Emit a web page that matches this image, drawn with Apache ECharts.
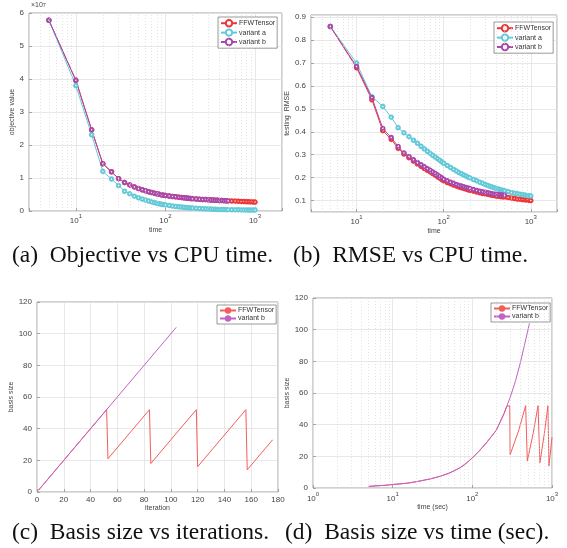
<!DOCTYPE html>
<html><head><meta charset="utf-8">
<script src="https://cdn.jsdelivr.net/npm/echarts@6/dist/echarts.min.js"></script>
<style>html,body{margin:0;padding:0;background:#fff}#c{width:567px;height:548px}</style>
</head><body><div id="c"></div>
<script>
// ---------- data ----------
// (a),(b): CPU time samples
const timeA = [5,10,15,20,25,30,35,40,45,50,55,60,65,70,75,80,85,90,95,100,
  110,120,130,140,150,160,170,180,190,200,220,240,260,280,300,320,340,360,380,400,
  425,450,475,500,550,600,650,700,750,800,850,900,950,1000];
// objective value (x 10^7)
const objFFW = [5.78,3.96,2.46,1.43,1.19,0.98,0.86,0.79,0.73,0.68,0.645,0.61,0.585,0.56,0.54,0.52,0.505,0.49,0.48,0.47,
  0.455,0.44,0.43,0.42,0.41,0.40,0.395,0.385,0.38,0.37,0.362,0.355,0.35,0.345,0.34,0.335,0.33,0.327,0.324,0.32,
  0.317,0.314,0.312,0.31,0.305,0.30,0.295,0.29,0.286,0.282,0.279,0.276,0.273,0.27];
const objVarA = [5.78,3.80,2.31,1.20,0.97,0.77,0.60,0.52,0.45,0.40,0.36,0.33,0.30,0.275,0.255,0.235,0.22,0.205,0.195,0.185,
  0.165,0.15,0.138,0.128,0.12,0.112,0.105,0.099,0.094,0.089,0.081,0.075,0.069,0.065,0.061,0.057,0.054,0.051,0.049,0.047,
  0.045,0.043,0.041,0.040,0.038,0.036,0.035,0.034,0.033,0.032,0.031,0.030,0.030,0.029];
const objVarB = [5.78,3.96,2.46,1.43,1.19,0.98,0.86,0.79,0.73,0.68,0.645,0.61,0.585,0.56,0.54,0.52,0.505,0.49,0.48,0.47,
  0.455,0.44,0.43,0.42,0.41,0.40,0.395,0.385,0.38,0.37,0.362,0.355,0.35,0.345,0.34,0.335,0.33,0.327,0.324,0.32,
  0.317,0.314,0.312,0.31];
// testing RMSE
const rmseFFW = [0.86,0.68,0.54,0.405,0.367,0.328,0.303,0.287,0.272,0.259,0.249,0.240,0.232,0.225,0.218,0.211,0.204,0.198,0.192,0.186,
  0.179,0.173,0.168,0.163,0.159,0.156,0.153,0.150,0.147,0.145,0.141,0.137,0.134,0.131,0.129,0.127,0.125,0.123,0.122,0.120,
  0.119,0.117,0.116,0.115,0.113,0.111,0.109,0.107,0.106,0.104,0.103,0.102,0.101,0.100];
const rmseVarA = [0.86,0.70,0.553,0.511,0.464,0.418,0.396,0.379,0.363,0.350,0.337,0.325,0.315,0.306,0.298,0.290,0.283,0.276,0.269,0.263,
  0.253,0.244,0.236,0.229,0.222,0.217,0.212,0.207,0.203,0.199,0.192,0.186,0.180,0.175,0.170,0.166,0.162,0.159,0.156,0.153,
  0.150,0.147,0.145,0.143,0.139,0.135,0.132,0.130,0.128,0.126,0.124,0.122,0.121,0.120];
const rmseVarB = [0.86,0.685,0.55,0.415,0.375,0.336,0.308,0.292,0.278,0.266,0.256,0.247,0.239,0.232,0.225,0.218,0.211,0.205,0.199,0.193,
  0.186,0.180,0.175,0.170,0.166,0.163,0.160,0.157,0.155,0.153,0.148,0.144,0.141,0.138,0.136,0.134,0.132,0.130,0.128,0.127,
  0.126,0.125,0.124,0.123];
// (c) basis size vs iteration
const iterFFW  = [1,52,53,84,85,119,120,156,157,176];
const basisFFW = [1,52,21,52,18,52,16,52,14,33];
const iterVarB  = [1,104];
const basisVarB = [1,104];
// (d) basis size vs time (sec)
const secFFW = [5,6,8,10,15,20,30,40,50,60,70,80,100,120,150,200,250,270,295,298,380,467,490,580,668,705,800,890,915,1000];
const basisSecFFW = [1,1.3,1.7,2.2,3.0,4.0,5.8,7.5,9.2,11,12.8,14.8,19,23,28.5,36.5,47,51.5,52,21,36,52,17,34.5,52,16,34,52,14,32];
const secVarB = [5,6,8,10,15,20,30,40,50,60,70,80,100,120,150,200,250,270,300,350,400,450,500,520];
const basisSecVarB = [1,1.3,1.7,2.2,3.0,4.0,5.8,7.5,9.2,11,12.8,14.8,19,23,28.5,36.5,47,51.5,57.5,68,79,90,100,104];
// tick / grid values
const minorTicksAB = [4,5,6,7,8,9,20,30,40,50,60,70,80,90,200,300,400,500,600,700,800,900];
const minorTicksD  = [2,3,4,5,6,7,8,9,20,30,40,50,60,70,80,90,200,300,400,500,600,700,800,900];
const captions = ['(a)  Objective vs CPU time.','(b)  RMSE vs CPU time.','(c)  Basis size vs iterations.','(d)  Basis size vs time (sec).'];

// ---------- chart ----------
const SANS = '"Liberation Sans", Arial, Helvetica, sans-serif';
const SERIF = '"Liberation Serif", "Times New Roman", serif';
const RED='#f03434', CYAN='#62c9d8', PURP='#a948aa', RED2='#f45c5c', PURP2='#c262c2';
const TXT='#444', GRIDC='#e2e2e2';
const pair = (xs, ys) => ys.map((y,i)=>[xs[i], y]);
const powRich = {
  b:{fontSize:8, color:TXT, fontFamily:SANS, lineHeight:12, verticalAlign:'bottom'},
  e:{fontSize:6, color:TXT, fontFamily:SANS, lineHeight:7, verticalAlign:'top'}
};
const powFmt = v => { const e=Math.log10(v); const r=Math.round(e); return Math.abs(e-r)<1e-6 ? '{b|10}{e|'+r+'}' : ''; };

function logX(gi, min, max, name, gap, margin){
  return {type:'log', logBase:10, gridIndex:gi, min, max, name, nameLocation:'middle', nameGap:gap,
    nameTextStyle:{fontSize:7, color:TXT, fontFamily:SANS},
    axisLine:{show:false}, axisTick:{show:true, inside:true, length:3, lineStyle:{color:'#777',width:0.6}},
    axisLabel:{margin, showMinLabel:true, showMaxLabel:true, formatter:powFmt, rich:powRich},
    splitLine:{show:true, lineStyle:{color:GRIDC, width:0.8}}};
}
function valAxis(gi, min, max, interval, name, gap, extra){
  return Object.assign({type:'value', gridIndex:gi, min, max, interval, name, nameLocation:'middle', nameGap:gap,
    nameTextStyle:{fontSize:7, color:TXT, fontFamily:SANS},
    axisLine:{show:false}, axisTick:{show:true, inside:true, length:3, lineStyle:{color:'#777',width:0.6}},
    axisLabel:{fontSize:8, color:TXT, fontFamily:SANS, margin:5},
    splitLine:{show:true, lineStyle:{color:GRIDC, width:0.8}}}, extra||{});
}
function minorLines(xi, yi, data, ticks){
  return {type:'line', name:'_minor'+xi, xAxisIndex:xi, yAxisIndex:yi, data, showSymbol:false, silent:true, z:1,
    lineStyle:{opacity:0}, tooltip:{show:false},
    markLine:{silent:true, symbol:['none','none'], label:{show:false}, animation:false,
      lineStyle:{color:'#d2d2d2', width:0.6, type:[1,2]}, data:ticks.map(v=>({xAxis:v}))}};
}
function markSeries(name, xi, data, color){
  return {type:'line', name, xAxisIndex:xi, yAxisIndex:xi, data, symbol:'emptyCircle', symbolSize:3.5,
    lineStyle:{color, width:1}, itemStyle:{color, borderColor:color, borderWidth:0.8}};
}
function plainSeries(name, xi, data, color){
  return {type:'line', name, xAxisIndex:xi, yAxisIndex:xi, data, symbol:'none',
    lineStyle:{color, width:1}, itemStyle:{color}};
}
function legend(names, left, top){
  return {data:names, orient:'vertical', left, top, padding:[2,2,2,2], itemGap:1, itemWidth:16, itemHeight:8,
    backgroundColor:'#fff', borderColor:'#555', borderWidth:0.6, borderRadius:0,
    textStyle:{fontSize:7, color:'#333', fontFamily:SANS, padding:[0,0,0,-3]},
    formatter:n=>n.slice(0, n.lastIndexOf(' ('))};
}
const capStyle = {fontFamily:SERIF, fontSize:23.5, fontWeight:'normal', color:'#111'};

const chart = echarts.init(document.getElementById('c'));
chart.setOption({
  animation:false,
  backgroundColor:'#fff',
  title:[
    {text:captions[0], left:12, top:244, padding:0, textStyle:capStyle},
    {text:captions[1], left:293, top:244, padding:0, textStyle:capStyle},
    {text:captions[2], left:12, top:521, padding:0, textStyle:capStyle},
    {text:captions[3], left:285, top:521, padding:0, textStyle:capStyle},
    {text:'\u00d710{e|7}', left:31, top:2, padding:0, textStyle:{fontFamily:SANS, fontSize:7, fontWeight:'normal', color:TXT,
      rich:{e:{fontSize:5.5, color:TXT, fontFamily:SANS, verticalAlign:'top', lineHeight:6}}}}
  ],
  grid:[
    {left:29, top:13, width:253, height:198, show:true, borderColor:'#8a8a8a', borderWidth:0.8},
    {left:311, top:15, width:246, height:197, show:true, borderColor:'#8a8a8a', borderWidth:0.8},
    {left:37, top:302, width:241, height:190, show:true, borderColor:'#8a8a8a', borderWidth:0.8},
    {left:313, top:298, width:239, height:190, show:true, borderColor:'#8a8a8a', borderWidth:0.8}
  ],
  xAxis:[
    logX(0, 3, 2000, 'time', 16, 2),
    logX(1, 3, 2000, 'time', 16, 2),
    valAxis(2, 0, 180, 20, 'iteration', 13, {axisLabel:{fontSize:8, color:TXT, fontFamily:SANS, margin:4}}),
    logX(3, 1, 1000, 'time (sec)', 16, 3)
  ],
  yAxis:[
    valAxis(0, 0, 6, 1, 'objective value', 6.5),
    valAxis(1, 0.05, 0.91, undefined, 'testing  RMSE', 11.5, {splitNumber:9,
      axisLabel:{fontSize:8, color:TXT, fontFamily:SANS, margin:5, showMinLabel:false, showMaxLabel:false,
        formatter:v=>{const r=Math.round(v*10); return Math.abs(v*10-r)<1e-6 ? (r/10).toFixed(1) : '';}}}),
    valAxis(2, 0, 120, 20, 'basis size', 11.5),
    valAxis(3, 0, 120, 20, 'basis size', 13)
  ],
  legend:[
    legend(['FFWTensor (a)','variant a (a)','variant b (a)'], 218, 17),
    legend(['FFWTensor (b)','variant a (b)','variant b (b)'], 494, 22),
    legend(['FFWTensor (c)','variant b (c)'], 217, 305),
    legend(['FFWTensor (d)','variant b (d)'], 491, 303)
  ],
  series:[
    minorLines(0, 0, pair(timeA, objFFW), minorTicksAB),
    markSeries('FFWTensor (a)', 0, pair(timeA, objFFW), RED),
    markSeries('variant a (a)', 0, pair(timeA, objVarA), CYAN),
    markSeries('variant b (a)', 0, pair(timeA, objVarB), PURP),
    minorLines(1, 1, pair(timeA, rmseFFW), minorTicksAB),
    markSeries('FFWTensor (b)', 1, pair(timeA, rmseFFW), RED),
    markSeries('variant a (b)', 1, pair(timeA, rmseVarA), CYAN),
    markSeries('variant b (b)', 1, pair(timeA, rmseVarB), PURP),
    plainSeries('FFWTensor (c)', 2, pair(iterFFW, basisFFW), RED2),
    plainSeries('variant b (c)', 2, pair(iterVarB, basisVarB), PURP2),
    minorLines(3, 3, pair(secFFW, basisSecFFW), minorTicksD),
    plainSeries('FFWTensor (d)', 3, pair(secFFW, basisSecFFW), RED2),
    plainSeries('variant b (d)', 3, pair(secVarB, basisSecVarB), PURP2)
  ]
});
</script>
</body></html>
